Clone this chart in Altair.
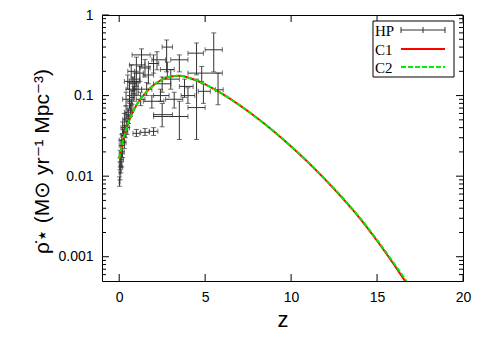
import altair as alt
import pandas as pd

# ---------------- data ----------------
hp_z   = [0.02, 0.05, 0.10, 0.15, 0.05, 0.20, 0.10, 0.30, 0.25, 0.05, 0.35, 0.45, 0.15, 0.50, 0.55, 0.40, 0.65, 0.70, 0.60, 0.75, 0.85, 0.90,
          0.80, 1.00, 1.20, 0.70, 1.00, 1.30, 0.90, 1.50, 1.70, 2.00, 2.20, 2.76, 2.50, 3.00, 3.50, 4.50, 5.50, 4.80, 3.80, 4.00, 5.75, 4.90,
          4.50, 3.50, 2.50, 1.00, 1.50, 2.00, 1.90, 2.40, 3.20, 1.60, 2.80, 0.40, 0.60, 0.30, 0.20, 0.50, 1.10, 1.25]
hp_zlo = [0.00, 0.00, 0.02, 0.05, 0.00, 0.10, 0.00, 0.20, 0.10, 0.00, 0.20, 0.30, 0.00, 0.40, 0.40, 0.30, 0.50, 0.60, 0.50, 0.60, 0.70, 0.80,
          0.60, 0.80, 1.00, 0.50, 0.60, 0.75, 0.60, 1.20, 1.40, 1.70, 1.90, 2.50, 2.00, 2.50, 3.00, 4.00, 5.00, 4.00, 3.50, 3.60, 5.60, 4.60,
          4.00, 2.00, 2.00, 0.80, 1.25, 1.75, 1.40, 2.00, 2.70, 1.30, 2.40, 0.20, 0.40, 0.20, 0.10, 0.30, 0.90, 1.00]
hp_zhi = [0.05, 0.10, 0.20, 0.25, 0.15, 0.30, 0.20, 0.40, 0.40, 0.10, 0.50, 0.60, 0.30, 0.60, 0.70, 0.50, 0.80, 0.80, 0.70, 0.90, 1.00, 1.00,
          1.00, 1.20, 1.40, 0.90, 1.50, 1.80, 1.20, 1.80, 2.00, 2.30, 2.70, 3.10, 3.00, 3.50, 4.00, 4.90, 6.00, 6.00, 4.30, 4.40, 6.05, 5.30,
          5.00, 4.00, 3.10, 1.20, 1.75, 2.25, 2.60, 2.90, 3.70, 1.90, 3.20, 0.60, 0.80, 0.40, 0.30, 0.70, 1.30, 1.50]
hp_rho = [0.0085, 0.011, 0.013, 0.016, 0.018, 0.020, 0.024, 0.026, 0.032, 0.014, 0.036, 0.040, 0.028, 0.048, 0.056, 0.062, 0.066, 0.075, 0.085, 0.095, 0.105, 0.12,
          0.14, 0.16, 0.19, 0.20, 0.24, 0.32, 0.15, 0.22, 0.18, 0.25, 0.278, 0.40, 0.14, 0.16, 0.278, 0.336, 0.37, 0.19, 0.13, 0.10, 0.118, 0.113,
          0.071, 0.055, 0.058, 0.034, 0.035, 0.036, 0.085, 0.10, 0.09, 0.12, 0.21, 0.09, 0.12, 0.05, 0.04, 0.15, 0.12, 0.09]
hp_rlo = [0.0075, 0.009, 0.011, 0.013, 0.015, 0.017, 0.020, 0.022, 0.027, 0.012, 0.030, 0.033, 0.024, 0.040, 0.045, 0.052, 0.055, 0.062, 0.070, 0.078, 0.085, 0.10,
          0.115, 0.13, 0.15, 0.16, 0.19, 0.227, 0.12, 0.17, 0.14, 0.19, 0.209, 0.197, 0.11, 0.12, 0.197, 0.181, 0.197, 0.15, 0.095, 0.08, 0.077, 0.08,
          0.0285, 0.0285, 0.041, 0.031, 0.032, 0.032, 0.07, 0.085, 0.07, 0.10, 0.17, 0.075, 0.10, 0.042, 0.034, 0.12, 0.10, 0.075]
hp_rhi = [0.0098, 0.013, 0.015, 0.019, 0.021, 0.024, 0.028, 0.031, 0.038, 0.017, 0.043, 0.048, 0.033, 0.058, 0.068, 0.074, 0.080, 0.090, 0.10, 0.115, 0.13, 0.145,
          0.17, 0.20, 0.23, 0.24, 0.30, 0.38, 0.19, 0.28, 0.23, 0.32, 0.35, 0.49, 0.17, 0.21, 0.32, 0.45, 0.60, 0.23, 0.16, 0.125, 0.19, 0.14,
          0.16, 0.085, 0.08, 0.038, 0.039, 0.040, 0.10, 0.12, 0.11, 0.145, 0.26, 0.11, 0.145, 0.06, 0.047, 0.18, 0.145, 0.11]

curve_z = [0.0, 0.25, 0.5, 0.75, 1.0, 1.5, 2.0, 2.5, 3.0, 3.5, 4.0, 4.5, 5.0, 6.0, 7.0, 8.0, 9.0, 10.0,
           11.0, 12.0, 13.0, 14.0, 15.0, 16.0, 16.5, 17.0]
c1_rho  = [0.0165, 0.029, 0.044, 0.0596, 0.076, 0.106, 0.135, 0.158, 0.173, 0.176, 0.168, 0.154, 0.138, 0.105, 0.076, 0.053, 0.0359, 0.0234,
           0.0148, 0.0090, 0.0053, 0.0030, 0.00158, 0.00079, 0.00055, 0.00038]
c2_rho  = [0.0165, 0.029, 0.044, 0.0596, 0.076, 0.106, 0.135, 0.158, 0.173, 0.176, 0.168, 0.154, 0.138, 0.105, 0.076, 0.053, 0.0360, 0.0235,
           0.0149, 0.0091, 0.0054, 0.00305, 0.00162, 0.00082, 0.00058, 0.00040]

x_tick_values = [0, 5, 10, 15, 20]
y_major = [0.001, 0.01, 0.1, 1]
y_minor = [0.0006, 0.0007, 0.0008, 0.0009,
           0.002, 0.003, 0.004, 0.005, 0.006, 0.007, 0.008, 0.009,
           0.02, 0.03, 0.04, 0.05, 0.06, 0.07, 0.08, 0.09,
           0.2, 0.3, 0.4, 0.5, 0.6, 0.7, 0.8, 0.9]

# ---------------- layout constants ----------------
W, H = 361, 266
XS = alt.Scale(domain=[-1, 20], nice=False, zero=False)
YS = alt.Scale(type="log", domain=[0.0005, 1], nice=False)
BAR = "#333333"

hp = pd.DataFrame({"z": hp_z, "zlo": hp_zlo, "zhi": hp_zhi,
                   "rho": hp_rho, "rlo": hp_rlo, "rhi": hp_rhi})
cv = pd.DataFrame({"z": curve_z, "c1": c1_rho, "c2": c2_rho})

x_axis = alt.Axis(values=x_tick_values, format="d", ticks=False, domain=False, grid=False,
                  labelFont="Liberation Sans", labelFontSize=14, labelColor="black",
                  labelPadding=9, labelFlush=False,
                  title="z", titleFont="Liberation Sans", titleFontSize=22,
                  titleFontWeight="normal", titleColor="black",
                  titleX=180.5, titleY=45, titleBaseline="alphabetic", titleAlign="center")
y_axis = alt.Axis(values=y_major, format="~g", ticks=False, domain=False, grid=False,
                  labelFont="Liberation Sans", labelFontSize=14, labelColor="black",
                  labelPadding=9, labelFlush=False,
                  title="ρ̇⋆ (M⊙ yr⁻¹ Mpc⁻³)", titleFont="Liberation Sans", titleFontSize=21,
                  titleFontWeight="normal", titleColor="black",
                  titleX=-54, titleY=146, titleAngle=270, titleBaseline="alphabetic",
                  titleAlign="center")


def X(f):
    return alt.X(f, type="quantitative", scale=XS, axis=x_axis)


def Y(f):
    return alt.Y(f, type="quantitative", scale=YS, axis=y_axis)


base_hp = alt.Chart(hp)
hbar = base_hp.mark_rule(color=BAR, strokeWidth=1, clip=True).encode(
    x=X("zlo"), x2="zhi", y=Y("rho"))
vbar = base_hp.mark_rule(color=BAR, strokeWidth=1, clip=True).encode(
    x=X("z"), y=Y("rlo"), y2="rhi")
cap_l = base_hp.mark_tick(color=BAR, orient="vertical", size=5, thickness=1, clip=True).encode(
    x=X("zlo"), y=Y("rho"))
cap_r = base_hp.mark_tick(color=BAR, orient="vertical", size=5, thickness=1, clip=True).encode(
    x=X("zhi"), y=Y("rho"))
cap_b = base_hp.mark_tick(color=BAR, orient="horizontal", size=5, thickness=1, clip=True).encode(
    x=X("z"), y=Y("rlo"))
cap_t = base_hp.mark_tick(color=BAR, orient="horizontal", size=5, thickness=1, clip=True).encode(
    x=X("z"), y=Y("rhi"))

c1_line = alt.Chart(cv).mark_line(color="#ff0000", strokeWidth=2, clip=True,
                                  interpolate="monotone").encode(x=X("z"), y=Y("c1"))
c2_line = alt.Chart(cv).mark_line(color="#00ee00", strokeWidth=2, strokeDash=[5, 2],
                                  clip=True, interpolate="monotone").encode(x=X("z"), y=Y("c2"))

# inward axis ticks (gnuplot style, mirrored)
ymaj = pd.DataFrame({"v": y_major})
ymin = pd.DataFrame({"v": y_minor})
xt = pd.DataFrame({"v": x_tick_values})
tick_layers = [
    alt.Chart(ymaj).mark_rule(color="black").encode(y=Y("v"), x=alt.value(0), x2=alt.value(7)),
    alt.Chart(ymaj).mark_rule(color="black").encode(y=Y("v"), x=alt.value(W), x2=alt.value(W - 7)),
    alt.Chart(ymin).mark_rule(color="black").encode(y=Y("v"), x=alt.value(0), x2=alt.value(4)),
    alt.Chart(ymin).mark_rule(color="black").encode(y=Y("v"), x=alt.value(W), x2=alt.value(W - 4)),
    alt.Chart(xt).mark_rule(color="black").encode(x=X("v"), y=alt.value(H), y2=alt.value(H - 7)),
    alt.Chart(xt).mark_rule(color="black").encode(x=X("v"), y=alt.value(0), y2=alt.value(7)),
]

# legend (drawn inside the plot, gnuplot style)
one = pd.DataFrame({"a": [0]})
lg = alt.Chart(one)
leg = [
    lg.mark_rect(fill="white", stroke="black", strokeWidth=1).encode(
        x=alt.value(271), x2=alt.value(352), y=alt.value(6), y2=alt.value(62)),
    lg.mark_text(align="left", baseline="middle", font="Liberation Serif", fontSize=15,
                 color="black").encode(x=alt.value(273), y=alt.value(16), text=alt.value("HP")),
    lg.mark_text(align="left", baseline="middle", font="Liberation Serif", fontSize=15,
                 color="black").encode(x=alt.value(273), y=alt.value(35), text=alt.value("C1")),
    lg.mark_text(align="left", baseline="middle", font="Liberation Serif", fontSize=15,
                 color="black").encode(x=alt.value(273), y=alt.value(53), text=alt.value("C2")),
    lg.mark_rule(color=BAR).encode(x=alt.value(299), x2=alt.value(343), y=alt.value(15)),
    lg.mark_rule(color=BAR).encode(x=alt.value(299), y=alt.value(12), y2=alt.value(18)),
    lg.mark_rule(color=BAR).encode(x=alt.value(321), y=alt.value(12), y2=alt.value(18)),
    lg.mark_rule(color=BAR).encode(x=alt.value(343), y=alt.value(12), y2=alt.value(18)),
    lg.mark_rule(color="#ff0000", strokeWidth=2).encode(x=alt.value(299), x2=alt.value(343), y=alt.value(34)),
    lg.mark_rule(color="#00ee00", strokeWidth=2, strokeDash=[5, 2]).encode(
        x=alt.value(299), x2=alt.value(343), y=alt.value(52)),
]

chart = alt.layer(
    hbar, vbar, cap_l, cap_r, cap_b, cap_t, c1_line, c2_line, *tick_layers, *leg
).properties(
    width=W, height=H,
    autosize=alt.AutoSizeParams(type="none"),
    padding={"left": 94, "top": 7, "right": 20, "bottom": 52},
).configure(
    background="white",
    view=alt.ViewConfig(stroke="black", strokeWidth=1),
)

chart.save("out.html", embed_options={"renderer": "svg", "actions": False})
